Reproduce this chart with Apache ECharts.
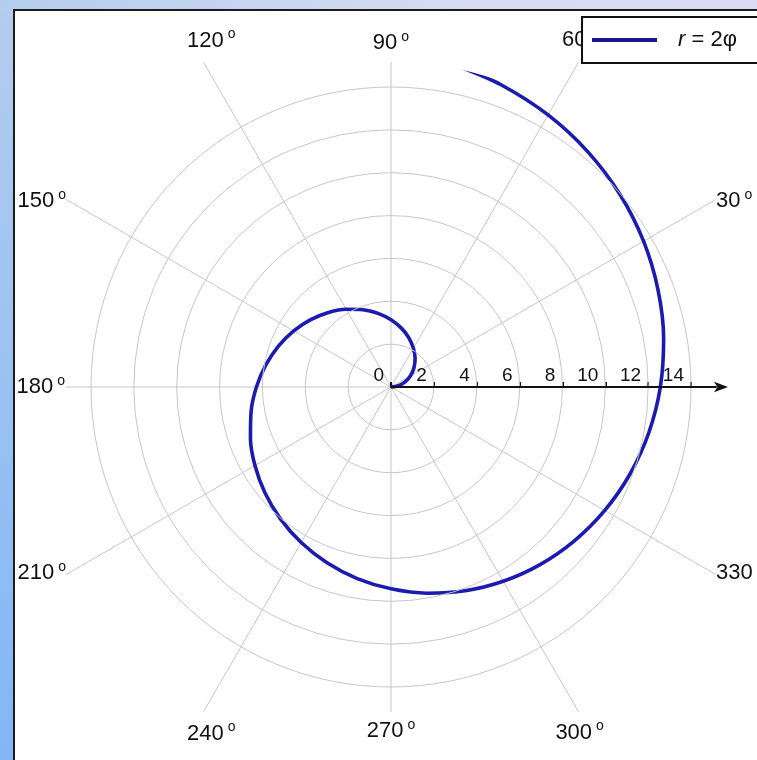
<!DOCTYPE html>
<html>
<head>
<meta charset="utf-8">
<script src="https://cdn.jsdelivr.net/npm/echarts@6/dist/echarts.min.js"></script>
<style>
  html, body { margin: 0; padding: 0; }
  #wrap { position: relative; width: 757px; height: 760px; overflow: hidden; background: #ffffff; }
  #leftStrip { position: absolute; left: 0; top: 0; width: 14px; height: 760px;
    background: linear-gradient(to bottom, #b4cdee, #82b6f6); }
  #topStrip { position: absolute; left: 0; top: 0; width: 757px; height: 10px;
    background: linear-gradient(to right, #b4cdee, #d6dcf2 60%, #dcdcf4); }
  #panel { position: absolute; left: 13px; top: 9px; right: 0; bottom: 0; background: #ffffff;
    border-left: 2px solid #1c1c1c; border-top: 2px solid #1c1c1c; }
  #chart { position: absolute; left: 0; top: 0; width: 757px; height: 760px; }
</style>
</head>
<body>
<div id="wrap">
  <div id="leftStrip"></div>
  <div id="topStrip"></div>
  <div id="panel"></div>
  <div id="chart"></div>
</div>
<script>
// ---- data ----
const seriesName = 'r = 2φ';
// polar angle (degrees) of points along the curve
const curveAngles = [0, 10, 20, 30, 40, 50, 60, 70, 80, 90, 100, 110, 120, 130, 140, 150, 160, 170,
  180, 190, 200, 210, 220, 230, 240, 250, 260, 270, 280, 290, 300, 310, 320, 330, 340, 350,
  360, 370, 380, 390, 400, 410, 420, 430, 438];
// radius of the curve at those angles
const curveRadii = [0, 0.35, 0.70, 1.05, 1.40, 1.75, 2.09, 2.44, 2.79, 3.14, 3.49, 3.84, 4.19, 4.54,
  4.89, 5.24, 5.59, 5.93, 6.28, 6.63, 6.98, 7.33, 7.68, 8.03, 8.38, 8.73, 9.08, 9.42, 9.77, 10.12,
  10.47, 10.82, 11.17, 11.52, 11.87, 12.22, 12.57, 12.92, 13.26, 13.61, 13.96, 14.31, 14.66, 15.01, 15.29];
// radial axis tick labels
const radialTicks = [0, 2, 4, 6, 8, 10, 12, 14];
// angular tick labels
const angleLabels = [30, 60, 90, 120, 150, 180, 210, 240, 270, 300, 330];
const noDegreeLabels = [330];

// ---- layout (not data) ----
const CX = 391, CY = 387;
const PX_PER_UNIT = 300 / 14;
const RING_MAX = 14;
const RING_R = RING_MAX * PX_PER_UNIT;
const OUTER_R = 325;              // spokes at 0/90/180/270 reach the plot square
const DIAG_R = 375;               // diagonal spokes reach the square's edge
const RMAX = OUTER_R / PX_PER_UNIT;
// how each angular label is nudged (rotation in degrees, distance beyond the outer ring)
const labelPlacement = {
  90: [0, 31], 270: [0, 31], 180: [0, 26],
  60: [2.85, 75], 120: [-5, 68], 240: [5, 68], 300: [-3.7, 71],
  30: [-2, 68], 210: [-2, 68], 150: [2, 68], 330: [2, 68]
};

const FONT = '"Liberation Sans", Arial, sans-serif';
const gridColor = '#c6c6c6';
const curveColor = '#1b1bb2';
const textColor = '#111';
const NONE = 'rgba(0,0,0,0)';

const degRich = {
  n: { fontSize: 22, lineHeight: 26, color: textColor, fontFamily: FONT },
  d: { fontSize: 14, lineHeight: 9, verticalAlign: 'top', color: textColor, fontFamily: FONT, padding: [0, 0, 0, 4] }
};
function degLabel(v) {
  if (noDegreeLabels.indexOf(v) >= 0) return '{n|' + v + '}';
  return '{n|' + v + '}{d|o}';
}

const curveData = curveAngles.map((a, i) => [curveRadii[i], a]);
const ringColors = radialTicks.map(() => gridColor).concat([NONE]);
const spokeAngles = [0, 30, 60, 90, 120, 150, 180, 210, 240, 270, 300, 330];
const cardinalSpokeColors = spokeAngles.map(a => a % 90 === 0 ? gridColor : NONE);
const diagSpokeColors = spokeAngles.map(a => a % 90 === 0 ? NONE : gridColor);

const polars = [];
const angleAxes = [];
const radiusAxes = [];

function addPolar(radius, angleAxisOpt, radiusAxisOpt) {
  const idx = polars.length;
  polars.push({ center: [CX, CY], radius: radius });
  angleAxes.push(Object.assign({
    polarIndex: idx, type: 'value', min: 0, max: 360, interval: 30,
    startAngle: 0, clockwise: false,
    axisLine: { show: false }, axisTick: { show: false }, splitLine: { show: false },
    axisLabel: { show: false }
  }, angleAxisOpt || {}));
  radiusAxes.push(Object.assign({
    polarIndex: idx, type: 'value', min: 0, max: RING_MAX, interval: 2,
    axisLine: { show: false }, axisTick: { show: false }, splitLine: { show: false },
    axisLabel: { show: false }
  }, radiusAxisOpt || {}));
  return idx;
}
function labelAxis(list, margin, startAngle) {
  return {
    startAngle: startAngle || 0,
    axisLabel: {
      show: true, margin: margin,
      formatter: v => list.indexOf(v) >= 0 ? degLabel(v) : '',
      rich: degRich
    }
  };
}

// diagonal spokes
addPolar(DIAG_R, { splitLine: { show: true, lineStyle: { color: diagSpokeColors, width: 1 } } });
// main polar: rings, cardinal spokes, radial axis line and labels, the curve
const mainPolar = addPolar(OUTER_R,
  { splitLine: { show: true, lineStyle: { color: cardinalSpokeColors, width: 1 } } },
  {
    max: RMAX,
    axisLine: {
      show: true, symbol: ['none', 'arrow'], symbolSize: [8, 14], symbolOffset: [0, 12],
      lineStyle: { color: textColor, width: 2 }
    },
    splitLine: { show: true, lineStyle: { color: ringColors, width: 1 } },
    axisLabel: {
      show: true, margin: 2, align: 'right', padding: [0, 7, 0, 0],
      fontSize: 19, color: textColor, fontFamily: FONT,
      formatter: v => radialTicks.indexOf(v) >= 0 ? String(v) : ''
    },
    z: 5
  });
// ticks above the radial axis + 90/270 labels
addPolar(RING_R, labelAxis([90, 270], labelPlacement[90][1], 0),
  { axisTick: { show: true, length: 5, lineStyle: { color: textColor, width: 2 } } });
// ticks below the radial axis + 180 label
addPolar(RING_R, labelAxis([180], labelPlacement[180][1], 0),
  { axisTick: { show: true, inside: true, length: 5, lineStyle: { color: textColor, width: 2 } } });
// remaining angular labels, one small polar each
angleLabels.filter(v => v % 90 !== 0).forEach(v => {
  const p = labelPlacement[v];
  addPolar(RING_R, labelAxis([v], p[1], p[0]));
});

const chart = echarts.init(document.getElementById('chart'), null, { renderer: 'canvas' });
chart.setOption({
  animation: false,
  backgroundColor: 'transparent',
  textStyle: { fontFamily: FONT },
  legend: {
    data: [seriesName],
    left: 582, top: 17,
    backgroundColor: '#ffffff',
    borderColor: '#111',
    borderWidth: 2,
    borderRadius: 0,
    padding: [12, 40, 12, 10],
    icon: 'rect',
    itemWidth: 65, itemHeight: 4,
    itemStyle: { color: '#16168e' },
    formatter: () => '{i|r} = 2φ',
    textStyle: {
      fontSize: 22, color: textColor, fontFamily: FONT, padding: [0, 0, 0, 16],
      rich: { i: { fontStyle: 'italic', fontSize: 22, fontFamily: FONT, color: textColor } }
    },
    z: 10
  },
  polar: polars,
  angleAxis: angleAxes,
  radiusAxis: radiusAxes,
  series: [
    {
      name: seriesName,
      type: 'line',
      coordinateSystem: 'polar',
      polarIndex: mainPolar,
      data: curveData,
      smooth: 0.3,
      symbol: 'none',
      clip: false,
      lineStyle: { color: curveColor, width: 3.6 },
      itemStyle: { color: curveColor },
      z: 3
    }
  ]
});
</script>
</body>
</html>
